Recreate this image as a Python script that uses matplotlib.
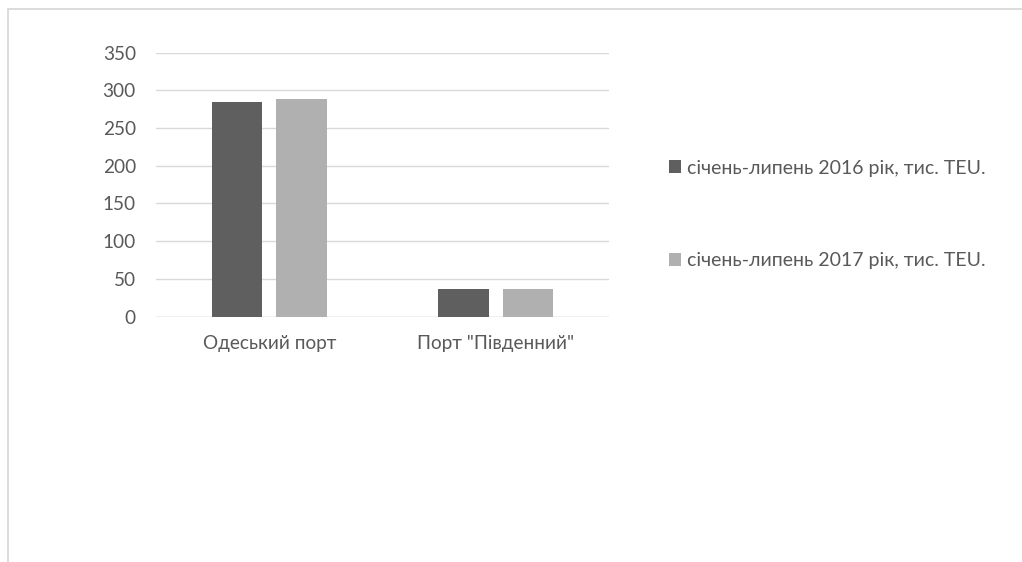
import matplotlib
matplotlib.use("Agg")
import matplotlib.pyplot as plt
from matplotlib.patches import Rectangle

categories = ["Одеський порт", 'Порт "Південний"']
series_names = ["січень-липень 2016 рік, тис. TEU.", "січень-липень 2017 рік, тис. TEU."]
values_2016 = [285, 37]
values_2017 = [289, 37]
yticks = [0, 50, 100, 150, 200, 250, 300, 350]

colors = ["#5f5f5f", "#b0b0b0"]
text_color = "#595959"
grid_color = "#d9d9d9"

plt.rcParams['font.family'] = ['Lato', 'DejaVu Sans']

W, H = 1022, 562
fig = plt.figure(figsize=(W / 100, H / 100), dpi=100)

# chart border (partially outside figure, as in the cropped reference)
border = Rectangle((8 / W, -0.1), 1.2, 1 - 8.5 / H + 0.1, transform=fig.transFigure,
                   fill=False, edgecolor=grid_color, linewidth=1.3, zorder=0)
fig.patches.append(border)

ax = fig.add_axes([156 / W, 1 - 316.5 / H, (609 - 156) / W, (316.5 - 52.5) / H])
x = range(len(categories))
bw = 0.223
off = 0.142
b1 = ax.bar([i - off for i in x], values_2016, width=bw, color=colors[0], label=series_names[0], zorder=3)
b2 = ax.bar([i + off for i in x], values_2017, width=bw, color=colors[1], label=series_names[1], zorder=3)

ax.set_xlim(-0.5, 1.5)
ax.set_ylim(0, 350)
ax.set_yticks(yticks)
ax.set_yticklabels([str(v) for v in yticks])
ax.set_xticks(list(x))
ax.set_xticklabels(categories)
ax.tick_params(axis='both', length=0, labelsize=13.7, labelcolor=text_color)
ax.tick_params(axis='y', pad=14.5)
ax.tick_params(axis='x', pad=13)
ax.grid(axis='y', color=grid_color, linewidth=1.0, zorder=0)
for s in ax.spines.values():
    s.set_visible(False)
ax.axhline(0, color=grid_color, linewidth=1.0, zorder=1)

leg = fig.legend(handles=[b1, b2], labels=series_names, loc='center left',
                 bbox_to_anchor=(669 / W, 1 - 214.5 / H), frameon=False,
                 fontsize=14, labelcolor=text_color, handlelength=0.62,
                 handleheight=0.62, handletextpad=0.3, labelspacing=3.9,
                 borderpad=0, borderaxespad=0)

fig.savefig("out.png", dpi=100)
